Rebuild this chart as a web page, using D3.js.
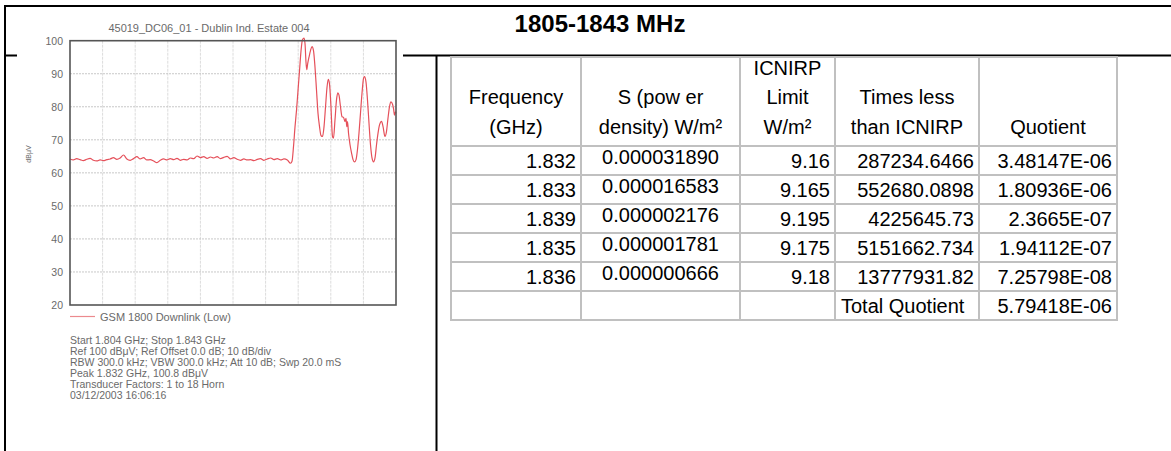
<!DOCTYPE html>
<html><head><meta charset="utf-8">
<script src="https://cdn.jsdelivr.net/npm/d3@7"></script>
<style>html,body{margin:0;padding:0;background:#fff;} svg{display:block;}</style>
</head><body><svg id="c" width="1171" height="451"></svg>
<script>
// ---------- DATA ----------
const pageTitle = "1805-1843 MHz";
const plotTitle = "45019_DC06_01 - Dublin Ind. Estate 004";
const yTicks = [20, 30, 40, 50, 60, 70, 80, 90, 100];
const yUnit = "dBμV";
const sweepStartMHz = 1804, sweepStopMHz = 1843;
const legendLabel = "GSM 1800 Downlink (Low)";
const infoLines = [
  "Start 1.804 GHz; Stop 1.843 GHz",
  "Ref 100 dBμV; Ref Offset 0.0 dB; 10 dB/div",
  "RBW 300.0 kHz; VBW 300.0 kHz; Att 10 dB; Swp 20.0 mS",
  "Peak 1.832 GHz, 100.8 dBμV",
  "Transducer Factors: 1 to 18 Horn",
  "03/12/2003 16:06:16"
];
// trace (MHz, dBμV)
const noiseMHz = [1804.0,1804.4,1804.8,1805.2,1805.6,1806.0,1806.4,1806.8,1807.2,1807.6,1808.0,1808.4,1808.8,1809.2,1809.6,1810.0,1810.4,1810.8,1811.2,1811.6,1812.0,1812.4,1812.8,1813.2,1813.6,1814.0,1814.4,1814.8,1815.2,1815.6,1816.0,1816.4,1816.8,1817.2,1817.6,1818.0,1818.4,1818.8,1819.2,1819.6,1820.0,1820.4,1820.8,1821.2,1821.6,1822.0,1822.4,1822.8,1823.2,1823.6,1824.0,1824.4,1824.8,1825.2,1825.6,1826.0,1826.4,1826.8,1827.2,1827.6,1828.0,1828.4,1828.8,1829.2,1829.6,1830.0];
const noiseDb = [64.2,63.9,64.3,64.0,63.7,64.1,64.4,63.8,63.6,63.9,63.7,64.0,64.2,64.6,64.1,64.5,65.4,64.2,63.8,64.3,64.9,64.2,64.6,63.9,64.0,63.6,63.1,63.8,64.2,63.9,64.3,64.0,64.4,63.8,64.1,63.9,64.5,64.3,65.1,64.6,64.9,64.4,64.8,64.5,64.9,64.3,64.7,65.0,64.2,64.6,64.1,63.8,64.2,63.9,64.0,63.7,64.1,64.3,63.8,64.2,64.5,64.0,64.3,63.9,64.2,63.9];
const signalMHz = [1830.38,1830.56,1830.74,1830.92,1831.10,1831.28,1831.46,1831.64,1831.81,1832.00,1832.12,1832.22,1832.32,1832.43,1832.59,1832.77,1832.95,1833.13,1833.31,1833.49,1833.67,1833.85,1834.03,1834.21,1834.39,1834.57,1834.75,1834.90,1835.04,1835.22,1835.40,1835.52,1835.70,1835.88,1836.04,1836.18,1836.36,1836.54,1836.72,1836.90,1837.02,1837.11,1837.20,1837.32,1837.50,1837.68,1837.86,1838.04,1838.22,1838.39,1838.57,1838.75,1838.93,1839.11,1839.23,1839.41,1839.59,1839.77,1839.95,1840.13,1840.31,1840.49,1840.67,1840.85,1841.03,1841.27,1841.45,1841.68,1841.86,1842.04,1842.22,1842.40,1842.58,1842.70,1842.82,1842.94,1843.00];
const signalDb = [62.9,63.5,68,74,79,85,91,97,100.3,100.8,99,94,91.2,93,95,97,98.2,97,92,85,78,74,71.3,71,74,80,86,88.3,87,80,71,70.5,76,82,84.2,83.5,80,77,76.8,75.5,76.5,74,75.5,72,68.5,66,64,63.3,64,67,72,78,84,88.5,89.1,87.5,82,75,68.5,64.5,63.3,64.5,68.5,72,74.5,75.6,74,71,72.5,76.5,80,81.5,80.8,79.5,77.5,78.5,78];

// table
const headerLines = [
  ["Frequency", "(GHz)"],
  ["S (pow er", "density) W/m²"],
  ["ICNIRP", "Limit", "W/m²"],
  ["Times less", "than ICNIRP"],
  ["Quotient"]
];
const freqGHz = ["1.832", "1.833", "1.839", "1.835", "1.836"];
const powerDensity = ["0.000031890", "0.000016583", "0.000002176", "0.000001781", "0.000000666"];
const icnirpLimit = ["9.16", "9.165", "9.195", "9.175", "9.18"];
const timesLess = ["287234.6466", "552680.0898", "4225645.73", "5151662.734", "13777931.82"];
const quotient = ["3.48147E-06", "1.80936E-06", "2.3665E-07", "1.94112E-07", "7.25798E-08"];
const totalLabel = "Total Quotient";
const totalQuotient = "5.79418E-06";

// ---------- DRAW ----------
const svg = d3.select("#c");
const FONT = "'Liberation Sans', Arial, Helvetica, sans-serif";
svg.append("rect").attr("width", 1171).attr("height", 451).attr("fill", "#fff");

// outer frame lines
const frame = svg.append("g").attr("stroke", "#000").attr("stroke-width", 2).attr("fill", "none");
frame.append("path").attr("d", "M5,6H1171");
frame.append("path").attr("d", "M5,5V451");
frame.append("path").attr("d", "M5,55.5H1171");
frame.append("path").attr("d", "M436.5,55.5V451");

// chart "image" background
svg.append("rect").attr("x", 17).attr("y", 8).attr("width", 386).attr("height", 443).attr("fill", "#fff");

// page title
svg.append("text").attr("x", 600).attr("y", 31.5).attr("text-anchor", "middle")
  .attr("font-family", FONT).attr("font-weight", "bold").attr("font-size", 24).attr("fill", "#000")
  .text(pageTitle);

// ---- spectrum chart ----
const x = d3.scaleLinear().domain([sweepStartMHz, sweepStopMHz]).range([70, 396]);
const y = d3.scaleLinear().domain([20, 100]).range([305, 40.7]);
const gray = "#6a6a6a";
const chart = svg.append("g");

// grid
const divs = d3.range(1, 10).map(i => sweepStartMHz + i * (sweepStopMHz - sweepStartMHz) / 10);
chart.append("g").selectAll("line").data(divs).join("line")
  .attr("x1", d => x(d)).attr("x2", d => x(d)).attr("y1", y(100)).attr("y2", y(20))
  .attr("stroke", "#dcdcdc").attr("stroke-width", 1).attr("stroke-dasharray", "3,1");
chart.append("g").selectAll("line").data(yTicks.filter(v => v > 20 && v < 100)).join("line")
  .attr("x1", x(sweepStartMHz)).attr("x2", x(sweepStopMHz)).attr("y1", d => y(d)).attr("y2", d => y(d))
  .attr("stroke", "#c8c8c8").attr("stroke-width", 1).attr("stroke-dasharray", "2,1");

// y axis labels
const yAxis = chart.append("g").attr("transform", `translate(${x(sweepStartMHz)},0)`)
  .call(d3.axisLeft(y).tickValues(yTicks).tickSize(0).tickPadding(7).tickFormat(d3.format("d")));
yAxis.select(".domain").remove();
yAxis.selectAll("text").attr("font-family", FONT).attr("font-size", 10.5).attr("fill", gray);

// unit
chart.append("text").attr("transform", "translate(31,154) rotate(-90)").attr("text-anchor", "middle")
  .attr("font-family", FONT).attr("font-size", 7).attr("fill", gray).text(yUnit);

// plot title
chart.append("text").attr("x", 209).attr("y", 32).attr("text-anchor", "middle")
  .attr("font-family", FONT).attr("font-size", 11).attr("fill", gray).text(plotTitle);

// trace
const trace = noiseMHz.map((f, i) => [f, noiseDb[i]]).concat(signalMHz.map((f, i) => [f, signalDb[i]]));
chart.append("path").datum(trace)
  .attr("d", d3.line().x(d => x(d[0])).y(d => y(d[1])).curve(d3.curveMonotoneX))
  .attr("fill", "none").attr("stroke", "#e5505a").attr("stroke-width", 1.2).attr("stroke-linejoin", "round");

// plot frame
chart.append("rect").attr("x", x(sweepStartMHz)).attr("y", y(100))
  .attr("width", x(sweepStopMHz) - x(sweepStartMHz)).attr("height", y(20) - y(100))
  .attr("fill", "none").attr("stroke", "#555").attr("stroke-width", 1.6);

// legend
chart.append("line").attr("x1", 70).attr("x2", 95).attr("y1", 316.5).attr("y2", 316.5)
  .attr("stroke", "#ec8a8e").attr("stroke-width", 1.2);
chart.append("text").attr("x", 100).attr("y", 320.5).attr("font-family", FONT).attr("font-size", 11)
  .attr("fill", gray).text(legendLabel);

// info
chart.append("g").selectAll("text").data(infoLines).join("text")
  .attr("x", 70).attr("y", (d, i) => 343.5 + i * 11)
  .attr("font-family", FONT).attr("font-size", 10.5).attr("fill", gray).text(d => d);

// ---- table ----
const colEdges = [451, 581, 740, 835, 979, 1117];
const tableTop = 57, headerBottom = 146, rowH = 29;
const nRows = freqGHz.length + 1;
const rowY = d3.scaleLinear().domain([0, nRows]).range([headerBottom, headerBottom + nRows * rowH]);
const tbl = svg.append("g");
const gridC = "#c0c0c0";
const hRules = [tableTop].concat(d3.range(0, nRows + 1).map(i => rowY(i)));
tbl.append("g").selectAll("line").data(hRules).join("line")
  .attr("x1", colEdges[0] - 1).attr("x2", colEdges[5] + 1).attr("y1", d => d).attr("y2", d => d)
  .attr("stroke", gridC).attr("stroke-width", 2);
tbl.append("g").selectAll("line").data(colEdges).join("line")
  .attr("x1", d => d).attr("x2", d => d).attr("y1", tableTop).attr("y2", rowY(nRows))
  .attr("stroke", gridC).attr("stroke-width", 2);

const txt = (g) => g.attr("font-family", FONT).attr("font-size", 20).attr("fill", "#000");
const lineGap = 29.5, lastBase = 133.5;
headerLines.forEach((lines, c) => {
  const cx = (colEdges[c] + colEdges[c + 1]) / 2;
  tbl.append("g").selectAll("text").data(lines).join("text")
    .call(txt)
    .attr("x", cx).attr("text-anchor", "middle")
    .attr("y", (d, i) => lastBase - (lines.length - 1 - i) * lineGap)
    .text(d => d);
});
const pad = 5;
const rows = freqGHz.map((f, i) => ({ f, s: powerDensity[i], l: icnirpLimit[i], t: timesLess[i], q: quotient[i] }));
const rg = tbl.append("g").selectAll("g").data(rows).join("g");
const base = (i) => rowY(i + 1) - 7;
rg.append("text").call(txt).attr("x", colEdges[1] - pad).attr("y", (d, i) => base(i)).attr("text-anchor", "end").text(d => d.f);
rg.append("text").call(txt).attr("x", (colEdges[1] + colEdges[2]) / 2).attr("y", (d, i) => base(i) - 4).attr("text-anchor", "middle").text(d => d.s);
rg.append("text").call(txt).attr("x", colEdges[3] - pad).attr("y", (d, i) => base(i)).attr("text-anchor", "end").text(d => d.l);
rg.append("text").call(txt).attr("x", colEdges[4] - pad).attr("y", (d, i) => base(i)).attr("text-anchor", "end").text(d => d.t);
rg.append("text").call(txt).attr("x", colEdges[5] - pad).attr("y", (d, i) => base(i)).attr("text-anchor", "end").text(d => d.q);
tbl.append("text").call(txt).attr("x", colEdges[3] + 6).attr("y", base(rows.length)).text(totalLabel);
tbl.append("text").call(txt).attr("x", colEdges[5] - pad).attr("y", base(rows.length)).attr("text-anchor", "end").text(totalQuotient);
</script></body></html>
